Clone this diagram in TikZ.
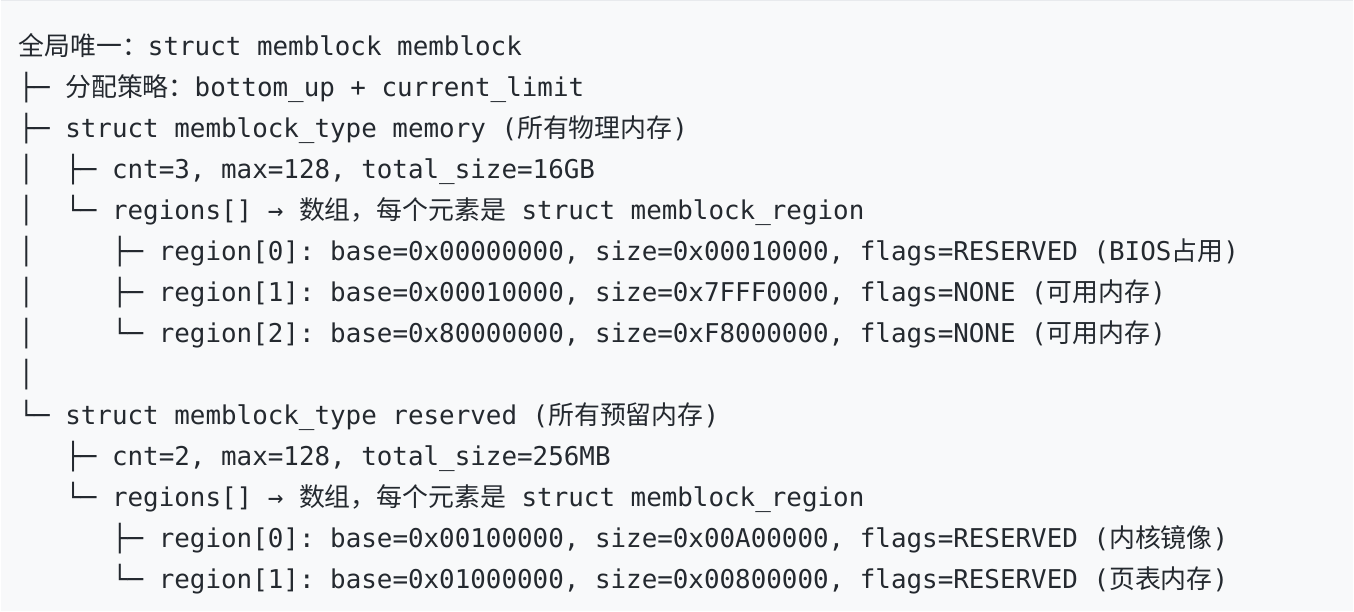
\documentclass[tikz,border=0pt]{standalone}
\usepackage{fontspec}
\setmonofont{DejaVu Sans Mono}
\newfontfamily\cjkfont{Noto Sans CJK SC}
\usepackage{tikz}
\usetikzlibrary{positioning}
\definecolor{codebg}{HTML}{F8F9FA}
\definecolor{codeedge}{HTML}{E8EAED}
\definecolor{codetext}{HTML}{24292F}
\newcommand{\zh}[1]{{\cjkfont #1}}
\tikzset{
  code/.style={anchor=base west, inner sep=0pt, outer sep=0pt, text=codetext,
    font=\ttfamily\fontsize{12.95pt}{16pt}\selectfont},
}

\begin{document}
\begin{tikzpicture}[x=7.8pt, y=-20.5pt]
\fill[codebg] (-1.154,-1.366) rectangle (85.64,13.56);
\draw[codeedge, line width=0.6pt] (-1.154,-1.352) -- (85.64,-1.352);
\useasboundingbox (-1.154,-1.366) rectangle (85.64,13.56);

% top level
\node[code] (root) at (0,0) {\zh{全局唯一：}struct memblock memblock};
\node[code] (policy) at (0,1) {├─ \zh{分配策略：}bottom\_up + current\_limit};
\node[code] (memory) at (0,2) {├─ struct memblock\_type memory (\zh{所有物理内存})};

% memory branch
\node[code] (bar3) at (0,3) {│};
\node[code] (bar4) at (0,4) {│};
\node[code] (bar5) at (0,5) {│};
\node[code] (bar6) at (0,6) {│};
\node[code] (bar7) at (0,7) {│};
\node[code] (bar8) at (0,8) {│};
\node[code] (memcnt) at (3,3) {├─ cnt=3, max=128, total\_size=16GB};
\node[code] (memregs) at (3,4) {└─ regions[] → \zh{数组，每个元素是} struct memblock\_region};
\node[code] (memr0) at (6,5) {├─ region[0]: base=0x00000000, size=0x00010000, flags=RESERVED (BIOS\zh{占用})};
\node[code] (memr1) at (6,6) {├─ region[1]: base=0x00010000, size=0x7FFF0000, flags=NONE (\zh{可用内存})};
\node[code] (memr2) at (6,7) {└─ region[2]: base=0x80000000, size=0xF8000000, flags=NONE (\zh{可用内存})};

% reserved branch
\node[code] (resv) at (0,9) {└─ struct memblock\_type reserved (\zh{所有预留内存})};
\node[code] (resvcnt) at (3,10) {├─ cnt=2, max=128, total\_size=256MB};
\node[code] (resvregs) at (3,11) {└─ regions[] → \zh{数组，每个元素是} struct memblock\_region};
\node[code] (resvr0) at (6,12) {├─ region[0]: base=0x00100000, size=0x00A00000, flags=RESERVED (\zh{内核镜像})};
\node[code] (resvr1) at (6,13) {└─ region[1]: base=0x01000000, size=0x00800000, flags=RESERVED (\zh{页表内存})};
\end{tikzpicture}
\end{document}
